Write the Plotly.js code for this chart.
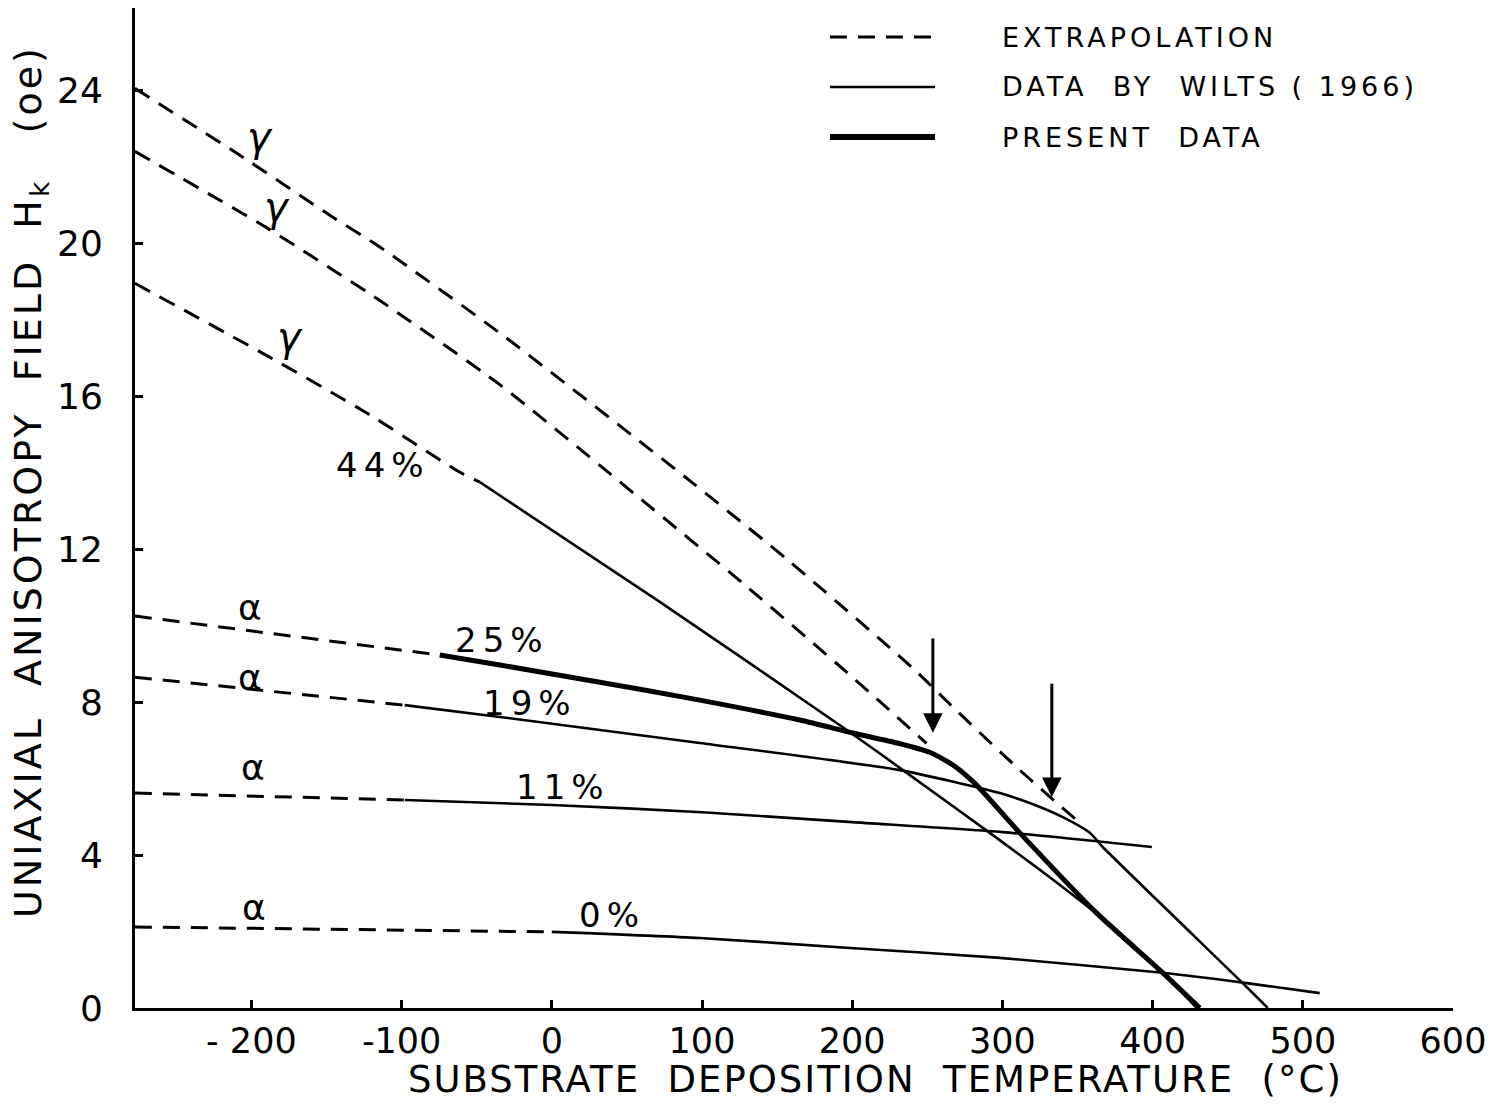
<!DOCTYPE html>
<html>
<head>
<meta charset="utf-8">
<script src="https://cdn.plot.ly/plotly-3.0.1.min.js"></script>
<style>html,body{margin:0;padding:0;background:#fff;}#chart{width:1507px;height:1104px;}</style>
</head>
<body>
<div id="chart"></div>
<script>
// ---- Axis ticks ----
const xTickVals = [-200, -100, 0, 100, 200, 300, 400, 500, 600];
const xTickText = ['- 200', '-100', '0', '100', '200', '300', '400', '500', '600'];
const yTickVals = [0, 4, 8, 12, 16, 20, 24];
const yTickText = ['0', '4', '8', '12', '16', '20', '24'];

// ---- Extrapolation (dashed) ----
const extGammaUpperX = [-277.6, -207.7, -145.8, -114.5, -34.6, 94.1, 158.5, 240.5, 267, 311.6, 351.5];
const extGammaUpperY = [24.05, 22.3, 20.68, 19.9, 17.65, 13.72, 11.67, 8.88, 7.87, 6.22, 4.84];
const extGammaMiddleX = [-277.6, -189.7, -114.5, -34.6, 58.6, 127.4, 198.4, 249.5];
const extGammaMiddleY = [22.4, 20.4, 18.5, 16.3, 13.33, 11.1, 8.71, 6.92];
const extGammaLowerX = [-277.6, -192.4, -123.2, -61.2, -47.9];
const extGammaLowerY = [18.95, 17.12, 15.56, 14.01, 13.75];
const extAlpha25X = [-277.6, -74.6];
const extAlpha25Y = [10.25, 9.23];
const extAlpha19X = [-277.6, -97.9];
const extAlpha19Y = [8.65, 7.92];
const extAlpha11X = [-277.6, -97.9];
const extAlpha11Y = [5.62, 5.44];
const extAlpha0X = [-277.6, 0];
const extAlpha0Y = [2.12, 1.99];

// ---- Data by Wilts (1966) (thin solid) ----
const wilts44X = [-47.9, 71.9, 196.4, 243, 291.6, 340.2, 373.5, 404.8, 429.4];
const wilts44Y = [13.75, 10.62, 7.27, 5.96, 4.58, 3.16, 2.12, 0.99, 0];
const wilts19X = [-97.9, -34.6, 98.5, 231.7, 298.3, 318.2, 340.2, 358.2, 366.8, 460, 476.7];
const wilts19Y = [7.92, 7.61, 6.93, 6.22, 5.62, 5.36, 4.99, 4.58, 4.21, 0.65, 0];
const wilts11X = [-97.9, 0, 100, 200, 300, 399.5];
const wilts11Y = [5.44, 5.31, 5.12, 4.86, 4.6, 4.21];
const wilts0X = [0, 98.5, 198.4, 298.3, 406.8, 462.7, 511.3];
const wilts0Y = [1.99, 1.83, 1.57, 1.31, 0.92, 0.65, 0.39];

// ---- Present data (thick solid) ----
const present25X = [-74.6, -34.6, 32, 98.5, 165.1, 200.4, 230, 252, 268, 282, 311.6, 362.8, 406.8, 431.4];
const present25Y = [9.23, 8.97, 8.52, 8.05, 7.53, 7.19, 6.93, 6.68, 6.33, 5.86, 4.58, 2.48, 0.92, 0];

// ---- Curve labels ----
const gammaLabelX = [-194.4, -183.1, -174.4];
const gammaLabelY = [22.77, 20.94, 17.54];
const alphaLabelX = [-201, -201, -199, -198];
const alphaLabelY = [10.48, 8.65, 6.3, 2.64];
const pctLabels = ['44%', '25%', '19%', '11%', '0%'];
const pctLabelX = [-112.5, -33.3, -14.6, 7.3, 40];
const pctLabelY = [14.2, 9.62, 7.97, 5.78, 2.43];

// ---- Arrows (transition markers) ----
const arrowX = [253.7, 332.9];
const arrowTipY = [7.2, 5.52];
const arrowTailY = [9.7, 8.52];

// ---- Legend ----
const legendNames = ['EXTRAPOLATION', 'DATA  BY  WILTS ( 1966)', 'PRESENT  DATA'];

const FONT = 'DejaVu Sans, sans-serif';
const DASH = '17px,11px';

function tr(x, y, w, dash) {
  return {x: x, y: y, type: 'scatter', mode: 'lines', showlegend: false, hoverinfo: 'skip',
          line: {color: 'black', width: w, dash: dash || 'solid', shape: 'spline', smoothing: 0.6}};
}

const traces = [
  tr(extGammaUpperX, extGammaUpperY, 3, DASH),
  tr(extGammaMiddleX, extGammaMiddleY, 3, DASH),
  tr(extGammaLowerX, extGammaLowerY, 3, DASH),
  tr(extAlpha25X, extAlpha25Y, 3, DASH),
  tr(extAlpha19X, extAlpha19Y, 3, DASH),
  tr(extAlpha11X, extAlpha11Y, 3, DASH),
  tr(extAlpha0X, extAlpha0Y, 3, DASH),
  tr(wilts44X, wilts44Y, 2.6),
  tr(wilts19X, wilts19Y, 2.6),
  tr(wilts11X, wilts11Y, 2.6),
  tr(wilts0X, wilts0Y, 2.6),
  tr(present25X, present25Y, 5)
];

const annotations = [];
gammaLabelX.forEach((x, i) => annotations.push({x: x, y: gammaLabelY[i], xref: 'x', yref: 'y', text: '<i>γ</i>', showarrow: false,
  font: {family: FONT, size: 40, color: 'black'}}));
alphaLabelX.forEach((x, i) => annotations.push({x: x, y: alphaLabelY[i], xref: 'x', yref: 'y', text: 'α', showarrow: false,
  font: {family: FONT, size: 36, color: 'black'}}));
pctLabels.forEach((t, i) => annotations.push({x: pctLabelX[i], y: pctLabelY[i], xref: 'x', yref: 'y',
  text: '<span style="letter-spacing:6px">' + t + '</span>', showarrow: false,
  font: {family: FONT, size: 34, color: 'black'}}));
arrowX.forEach((x, i) => annotations.push({x: x, y: arrowTipY[i], ax: x, ay: arrowTailY[i], xref: 'x', yref: 'y',
  axref: 'x', ayref: 'y', text: '', showarrow: true, arrowhead: 2, arrowsize: 1.3, arrowwidth: 3, arrowcolor: 'black'}));

// axis titles
annotations.push({xref: 'paper', yref: 'paper', x: 0.5615, y: -0.071, xanchor: 'center', yanchor: 'middle', showarrow: false,
  text: '<span style="letter-spacing:2px">SUBSTRATE\u00a0\u00a0DEPOSITION\u00a0\u00a0TEMPERATURE\u00a0\u00a0(°C)</span>',
  font: {family: FONT, size: 37, color: 'black'}});
annotations.push({xref: 'paper', yref: 'paper', x: -0.0797, y: 0.527, xanchor: 'center', yanchor: 'middle', showarrow: false,
  textangle: -90,
  text: '<span style="letter-spacing:3px">UNIAXIAL\u00a0\u00a0ANISOTROPY\u00a0\u00a0FIELD\u00a0\u00a0H<sub>k</sub>\u00a0\u00a0\u00a0(oe)</span>',
  font: {family: FONT, size: 38, color: 'black'}});

// legend (drawn)
const legY = [0.971, 0.921, 0.871];
const legW = [3, 2.6, 6];
const legDash = [DASH, 'solid', 'solid'];
const shapes = [];
legendNames.forEach((n, i) => {
  shapes.push({type: 'line', xref: 'paper', yref: 'paper', x0: 0.5273, x1: 0.607, y0: legY[i], y1: legY[i],
    line: {color: 'black', width: legW[i], dash: legDash[i]}});
  annotations.push({xref: 'paper', yref: 'paper', x: 0.6563, y: legY[i], xanchor: 'left', yanchor: 'middle', showarrow: false,
    text: '<span style="letter-spacing:4px">' + n.replace(/ /g, '\u00a0') + '</span>',
    font: {family: FONT, size: 27, color: 'black'}});
});

const layout = {
  width: 1507, height: 1104,
  margin: {l: 135, r: 54, t: 8, b: 96},
  paper_bgcolor: 'white', plot_bgcolor: 'white',
  showlegend: false,
  font: {family: FONT, color: 'black'},
  xaxis: {range: [-277.5, 600], tickvals: xTickVals, ticktext: xTickText, ticks: 'inside', ticklen: 8, tickwidth: 3,
          tickcolor: 'black', showline: true, linewidth: 3, linecolor: 'black', showgrid: false, zeroline: false,
          tickfont: {family: FONT, size: 35, color: 'black'}, ticklabelstandoff: 0, fixedrange: true},
  yaxis: {range: [0, 26.15], tickvals: yTickVals, ticktext: yTickText, ticks: 'inside', ticklen: 8, tickwidth: 3,
          tickcolor: 'black', showline: true, linewidth: 3, linecolor: 'black', showgrid: false, zeroline: false,
          tickfont: {family: FONT, size: 36, color: 'black'}, ticklabelstandoff: 22, fixedrange: true},
  annotations: annotations,
  shapes: shapes
};

Plotly.newPlot('chart', traces, layout, {staticPlot: true, displayModeBar: false});
</script>
</body>
</html>
